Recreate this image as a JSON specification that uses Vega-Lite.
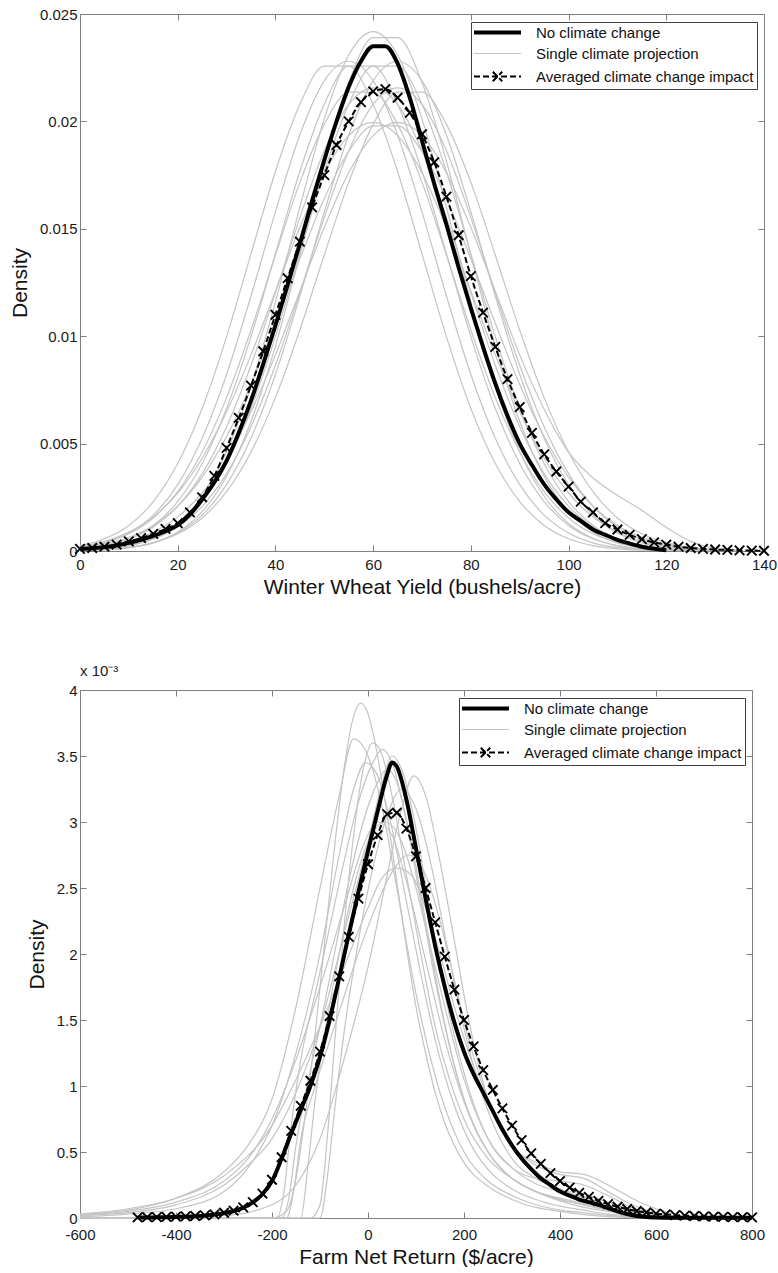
{
"$schema": "https://vega.github.io/schema/vega-lite/v6.json",
"padding": {"left": 9, "top": 7, "right": 0, "bottom": 0},
"spacing": 67,
"resolve": {"scale": {"color": "independent"}, "legend": {"color": "independent"}},
"config": {
  "font": "Liberation Sans",
  "view": {"stroke": null},
  "axis": {"grid": false, "domainColor": "#808080", "tickColor": "#808080", "tickSize": -6, "labelFontSize": 15, "labelColor": "#1a1a1a", "titleFontSize": 21, "titleFontWeight": "normal", "titleColor": "#111111", "labelFlush": false, "labelOverlap": false},
  "legend": {"labelFontSize": 15, "labelColor": "#111111", "labelLimit": 400, "strokeColor": "#404040", "fillColor": "#ffffff", "padding": 3, "rowPadding": 5, "symbolOffset": 16, "labelOffset": 31, "offset": 7.5}
},
"datasets": {
"wheat": [
{"s":"g","c":1,"x":0,"y":0.00002},{"s":"g","c":1,"x":5,"y":0.00005},{"s":"g","c":1,"x":10,"y":0.00015},{"s":"g","c":1,"x":15,"y":0.00038},{"s":"g","c":1,"x":20,"y":0.00088},{"s":"g","c":1,"x":25,"y":0.00183},{"s":"g","c":1,"x":30,"y":0.00348},{"s":"g","c":1,"x":35,"y":0.00603},{"s":"g","c":1,"x":40,"y":0.00954},{"s":"g","c":1,"x":45,"y":0.01378},{"s":"g","c":1,"x":50,"y":0.01815},{"s":"g","c":1,"x":55,"y":0.02181},{"s":"g","c":1,"x":60,"y":0.0239},{"s":"g","c":1,"x":65,"y":0.0239},{"s":"g","c":1,"x":70,"y":0.02181},{"s":"g","c":1,"x":75,"y":0.01815},{"s":"g","c":1,"x":80,"y":0.01378},{"s":"g","c":1,"x":85,"y":0.00954},{"s":"g","c":1,"x":90,"y":0.00603},{"s":"g","c":1,"x":95,"y":0.00348},{"s":"g","c":1,"x":100,"y":0.00183},{"s":"g","c":1,"x":105,"y":0.00088},{"s":"g","c":1,"x":110,"y":0.00038},{"s":"g","c":1,"x":115,"y":0.00015},{"s":"g","c":1,"x":120,"y":0.00005},{"s":"g","c":1,"x":125,"y":0.00002},
{"s":"g","c":2,"x":0,"y":0.00025},{"s":"g","c":2,"x":5,"y":0.00057},{"s":"g","c":2,"x":10,"y":0.00119},{"s":"g","c":2,"x":15,"y":0.0023},{"s":"g","c":2,"x":20,"y":0.00407},{"s":"g","c":2,"x":25,"y":0.00663},{"s":"g","c":2,"x":30,"y":0.00998},{"s":"g","c":2,"x":35,"y":0.01383},{"s":"g","c":2,"x":40,"y":0.01767},{"s":"g","c":2,"x":45,"y":0.0208},{"s":"g","c":2,"x":50,"y":0.02257},{"s":"g","c":2,"x":55,"y":0.02257},{"s":"g","c":2,"x":60,"y":0.0208},{"s":"g","c":2,"x":65,"y":0.01767},{"s":"g","c":2,"x":70,"y":0.01383},{"s":"g","c":2,"x":75,"y":0.00998},{"s":"g","c":2,"x":80,"y":0.00663},{"s":"g","c":2,"x":85,"y":0.00407},{"s":"g","c":2,"x":90,"y":0.0023},{"s":"g","c":2,"x":95,"y":0.00119},{"s":"g","c":2,"x":100,"y":0.00057},{"s":"g","c":2,"x":105,"y":0.00025},{"s":"g","c":2,"x":110,"y":0.0001},{"s":"g","c":2,"x":115,"y":0.00004},{"s":"g","c":2,"x":120,"y":0.00002},
{"s":"g","c":3,"x":0,"y":0.00022},{"s":"g","c":3,"x":5,"y":0.00045},{"s":"g","c":3,"x":10,"y":0.00088},{"s":"g","c":3,"x":15,"y":0.00159},{"s":"g","c":3,"x":20,"y":0.0027},{"s":"g","c":3,"x":25,"y":0.00432},{"s":"g","c":3,"x":30,"y":0.00648},{"s":"g","c":3,"x":35,"y":0.00913},{"s":"g","c":3,"x":40,"y":0.0121},{"s":"g","c":3,"x":45,"y":0.01506},{"s":"g","c":3,"x":50,"y":0.01761},{"s":"g","c":3,"x":55,"y":0.01934},{"s":"g","c":3,"x":60,"y":0.01995},{"s":"g","c":3,"x":65,"y":0.01934},{"s":"g","c":3,"x":70,"y":0.01761},{"s":"g","c":3,"x":75,"y":0.01506},{"s":"g","c":3,"x":80,"y":0.0121},{"s":"g","c":3,"x":85,"y":0.00913},{"s":"g","c":3,"x":90,"y":0.00648},{"s":"g","c":3,"x":95,"y":0.00432},{"s":"g","c":3,"x":100,"y":0.0027},{"s":"g","c":3,"x":105,"y":0.00159},{"s":"g","c":3,"x":110,"y":0.00088},{"s":"g","c":3,"x":115,"y":0.00045},{"s":"g","c":3,"x":120,"y":0.00022},{"s":"g","c":3,"x":125,"y":0.0001},{"s":"g","c":3,"x":130,"y":0.00004},{"s":"g","c":3,"x":135,"y":0.00002},
{"s":"g","c":4,"x":0,"y":0.0001},{"s":"g","c":4,"x":5,"y":0.00022},{"s":"g","c":4,"x":10,"y":0.00045},{"s":"g","c":4,"x":15,"y":0.00088},{"s":"g","c":4,"x":20,"y":0.00159},{"s":"g","c":4,"x":25,"y":0.0027},{"s":"g","c":4,"x":30,"y":0.00432},{"s":"g","c":4,"x":35,"y":0.00648},{"s":"g","c":4,"x":40,"y":0.00913},{"s":"g","c":4,"x":45,"y":0.0121},{"s":"g","c":4,"x":50,"y":0.01506},{"s":"g","c":4,"x":55,"y":0.01761},{"s":"g","c":4,"x":60,"y":0.01934},{"s":"g","c":4,"x":65,"y":0.01995},{"s":"g","c":4,"x":70,"y":0.01934},{"s":"g","c":4,"x":75,"y":0.01761},{"s":"g","c":4,"x":80,"y":0.01506},{"s":"g","c":4,"x":85,"y":0.0121},{"s":"g","c":4,"x":90,"y":0.00913},{"s":"g","c":4,"x":95,"y":0.0066},{"s":"g","c":4,"x":100,"y":0.0046},{"s":"g","c":4,"x":105,"y":0.0034},{"s":"g","c":4,"x":110,"y":0.0026},{"s":"g","c":4,"x":115,"y":0.0019},{"s":"g","c":4,"x":120,"y":0.0011},{"s":"g","c":4,"x":125,"y":0.00045},{"s":"g","c":4,"x":130,"y":0.00012},{"s":"g","c":4,"x":135,"y":0.00003},
{"s":"g","c":5,"x":0,"y":0.00011},{"s":"g","c":5,"x":5,"y":0.00026},{"s":"g","c":5,"x":10,"y":0.00056},{"s":"g","c":5,"x":15,"y":0.00112},{"s":"g","c":5,"x":20,"y":0.00208},{"s":"g","c":5,"x":25,"y":0.0036},{"s":"g","c":5,"x":30,"y":0.00579},{"s":"g","c":5,"x":35,"y":0.00865},{"s":"g","c":5,"x":40,"y":0.01202},{"s":"g","c":5,"x":45,"y":0.01552},{"s":"g","c":5,"x":50,"y":0.01863},{"s":"g","c":5,"x":55,"y":0.02079},{"s":"g","c":5,"x":60,"y":0.02156},{"s":"g","c":5,"x":65,"y":0.02079},{"s":"g","c":5,"x":70,"y":0.01863},{"s":"g","c":5,"x":75,"y":0.01552},{"s":"g","c":5,"x":80,"y":0.01202},{"s":"g","c":5,"x":85,"y":0.00865},{"s":"g","c":5,"x":90,"y":0.00579},{"s":"g","c":5,"x":95,"y":0.0036},{"s":"g","c":5,"x":100,"y":0.00208},{"s":"g","c":5,"x":105,"y":0.00112},{"s":"g","c":5,"x":110,"y":0.00056},{"s":"g","c":5,"x":115,"y":0.00026},{"s":"g","c":5,"x":120,"y":0.00011},{"s":"g","c":5,"x":125,"y":0.00005},{"s":"g","c":5,"x":130,"y":0.00002},
{"s":"g","c":6,"x":0,"y":0.00005},{"s":"g","c":6,"x":5,"y":0.00011},{"s":"g","c":6,"x":10,"y":0.00026},{"s":"g","c":6,"x":15,"y":0.00056},{"s":"g","c":6,"x":20,"y":0.00112},{"s":"g","c":6,"x":25,"y":0.00208},{"s":"g","c":6,"x":30,"y":0.0036},{"s":"g","c":6,"x":35,"y":0.00579},{"s":"g","c":6,"x":40,"y":0.00865},{"s":"g","c":6,"x":45,"y":0.01202},{"s":"g","c":6,"x":50,"y":0.01552},{"s":"g","c":6,"x":55,"y":0.01863},{"s":"g","c":6,"x":60,"y":0.02079},{"s":"g","c":6,"x":65,"y":0.02156},{"s":"g","c":6,"x":70,"y":0.02079},{"s":"g","c":6,"x":75,"y":0.01863},{"s":"g","c":6,"x":80,"y":0.01552},{"s":"g","c":6,"x":85,"y":0.01202},{"s":"g","c":6,"x":90,"y":0.00865},{"s":"g","c":6,"x":95,"y":0.00579},{"s":"g","c":6,"x":100,"y":0.0036},{"s":"g","c":6,"x":105,"y":0.00208},{"s":"g","c":6,"x":110,"y":0.00112},{"s":"g","c":6,"x":115,"y":0.00056},{"s":"g","c":6,"x":120,"y":0.00026},{"s":"g","c":6,"x":125,"y":0.00011},{"s":"g","c":6,"x":130,"y":0.00005},{"s":"g","c":6,"x":135,"y":0.00002},
{"s":"g","c":7,"x":0,"y":0.0001},{"s":"g","c":7,"x":5,"y":0.00025},{"s":"g","c":7,"x":10,"y":0.00057},{"s":"g","c":7,"x":15,"y":0.00119},{"s":"g","c":7,"x":20,"y":0.0023},{"s":"g","c":7,"x":25,"y":0.00407},{"s":"g","c":7,"x":30,"y":0.00663},{"s":"g","c":7,"x":35,"y":0.00998},{"s":"g","c":7,"x":40,"y":0.01383},{"s":"g","c":7,"x":45,"y":0.01767},{"s":"g","c":7,"x":50,"y":0.0208},{"s":"g","c":7,"x":55,"y":0.02257},{"s":"g","c":7,"x":60,"y":0.02257},{"s":"g","c":7,"x":65,"y":0.0208},{"s":"g","c":7,"x":70,"y":0.01767},{"s":"g","c":7,"x":75,"y":0.01383},{"s":"g","c":7,"x":80,"y":0.00998},{"s":"g","c":7,"x":85,"y":0.00663},{"s":"g","c":7,"x":90,"y":0.00407},{"s":"g","c":7,"x":95,"y":0.0023},{"s":"g","c":7,"x":100,"y":0.00119},{"s":"g","c":7,"x":105,"y":0.00057},{"s":"g","c":7,"x":110,"y":0.00025},{"s":"g","c":7,"x":115,"y":0.0001},{"s":"g","c":7,"x":120,"y":0.00004},{"s":"g","c":7,"x":125,"y":0.00002},
{"s":"g","c":8,"x":0,"y":0.00004},{"s":"g","c":8,"x":5,"y":0.0001},{"s":"g","c":8,"x":10,"y":0.00025},{"s":"g","c":8,"x":15,"y":0.00057},{"s":"g","c":8,"x":20,"y":0.00119},{"s":"g","c":8,"x":25,"y":0.0023},{"s":"g","c":8,"x":30,"y":0.00407},{"s":"g","c":8,"x":35,"y":0.00663},{"s":"g","c":8,"x":40,"y":0.00998},{"s":"g","c":8,"x":45,"y":0.01383},{"s":"g","c":8,"x":50,"y":0.01767},{"s":"g","c":8,"x":55,"y":0.0208},{"s":"g","c":8,"x":60,"y":0.02257},{"s":"g","c":8,"x":65,"y":0.02257},{"s":"g","c":8,"x":70,"y":0.0208},{"s":"g","c":8,"x":75,"y":0.01767},{"s":"g","c":8,"x":80,"y":0.01383},{"s":"g","c":8,"x":85,"y":0.00998},{"s":"g","c":8,"x":90,"y":0.00663},{"s":"g","c":8,"x":95,"y":0.00407},{"s":"g","c":8,"x":100,"y":0.0023},{"s":"g","c":8,"x":105,"y":0.00119},{"s":"g","c":8,"x":110,"y":0.00057},{"s":"g","c":8,"x":115,"y":0.00025},{"s":"g","c":8,"x":120,"y":0.0001},{"s":"g","c":8,"x":125,"y":0.00004},{"s":"g","c":8,"x":130,"y":0.00002},
{"s":"g","c":9,"x":0,"y":0.00017},{"s":"g","c":9,"x":5,"y":0.00039},{"s":"g","c":9,"x":10,"y":0.0008},{"s":"g","c":9,"x":15,"y":0.00154},{"s":"g","c":9,"x":20,"y":0.00276},{"s":"g","c":9,"x":25,"y":0.00461},{"s":"g","c":9,"x":30,"y":0.00714},{"s":"g","c":9,"x":35,"y":0.01029},{"s":"g","c":9,"x":40,"y":0.01378},{"s":"g","c":9,"x":45,"y":0.01716},{"s":"g","c":9,"x":50,"y":0.01986},{"s":"g","c":9,"x":55,"y":0.02136},{"s":"g","c":9,"x":60,"y":0.02136},{"s":"g","c":9,"x":65,"y":0.01986},{"s":"g","c":9,"x":70,"y":0.01716},{"s":"g","c":9,"x":75,"y":0.01378},{"s":"g","c":9,"x":80,"y":0.01029},{"s":"g","c":9,"x":85,"y":0.00714},{"s":"g","c":9,"x":90,"y":0.00461},{"s":"g","c":9,"x":95,"y":0.00276},{"s":"g","c":9,"x":100,"y":0.00154},{"s":"g","c":9,"x":105,"y":0.0008},{"s":"g","c":9,"x":110,"y":0.00039},{"s":"g","c":9,"x":115,"y":0.00017},{"s":"g","c":9,"x":120,"y":0.00007},{"s":"g","c":9,"x":125,"y":0.00003},
{"s":"g","c":10,"x":0,"y":0.00016},{"s":"g","c":10,"x":5,"y":0.00038},{"s":"g","c":10,"x":10,"y":0.00084},{"s":"g","c":10,"x":15,"y":0.00167},{"s":"g","c":10,"x":20,"y":0.00309},{"s":"g","c":10,"x":25,"y":0.00525},{"s":"g","c":10,"x":30,"y":0.00822},{"s":"g","c":10,"x":35,"y":0.01187},{"s":"g","c":10,"x":40,"y":0.01579},{"s":"g","c":10,"x":45,"y":0.01937},{"s":"g","c":10,"x":50,"y":0.02189},{"s":"g","c":10,"x":55,"y":0.0228},{"s":"g","c":10,"x":60,"y":0.02189},{"s":"g","c":10,"x":65,"y":0.01937},{"s":"g","c":10,"x":70,"y":0.01579},{"s":"g","c":10,"x":75,"y":0.01187},{"s":"g","c":10,"x":80,"y":0.00822},{"s":"g","c":10,"x":85,"y":0.00525},{"s":"g","c":10,"x":90,"y":0.00309},{"s":"g","c":10,"x":95,"y":0.00167},{"s":"g","c":10,"x":100,"y":0.00084},{"s":"g","c":10,"x":105,"y":0.00038},{"s":"g","c":10,"x":110,"y":0.00016},{"s":"g","c":10,"x":115,"y":0.00006},{"s":"g","c":10,"x":120,"y":0.00002},
{"s":"g","c":11,"x":0,"y":0.00003},{"s":"g","c":11,"x":5,"y":0.00009},{"s":"g","c":11,"x":10,"y":0.00024},{"s":"g","c":11,"x":15,"y":0.00059},{"s":"g","c":11,"x":20,"y":0.00128},{"s":"g","c":11,"x":25,"y":0.00255},{"s":"g","c":11,"x":30,"y":0.00463},{"s":"g","c":11,"x":35,"y":0.00767},{"s":"g","c":11,"x":40,"y":0.0116},{"s":"g","c":11,"x":45,"y":0.016},{"s":"g","c":11,"x":50,"y":0.02012},{"s":"g","c":11,"x":55,"y":0.02309},{"s":"g","c":11,"x":60,"y":0.02418},{"s":"g","c":11,"x":65,"y":0.02309},{"s":"g","c":11,"x":70,"y":0.02012},{"s":"g","c":11,"x":75,"y":0.016},{"s":"g","c":11,"x":80,"y":0.0116},{"s":"g","c":11,"x":85,"y":0.00767},{"s":"g","c":11,"x":90,"y":0.00463},{"s":"g","c":11,"x":95,"y":0.00255},{"s":"g","c":11,"x":100,"y":0.00128},{"s":"g","c":11,"x":105,"y":0.00059},{"s":"g","c":11,"x":110,"y":0.00024},{"s":"g","c":11,"x":115,"y":0.00009},{"s":"g","c":11,"x":120,"y":0.00003},
{"s":"g","c":12,"x":0,"y":0.00002},{"s":"g","c":12,"x":5,"y":0.00006},{"s":"g","c":12,"x":10,"y":0.00016},{"s":"g","c":12,"x":15,"y":0.00038},{"s":"g","c":12,"x":20,"y":0.00084},{"s":"g","c":12,"x":25,"y":0.00167},{"s":"g","c":12,"x":30,"y":0.00309},{"s":"g","c":12,"x":35,"y":0.00525},{"s":"g","c":12,"x":40,"y":0.00822},{"s":"g","c":12,"x":45,"y":0.01187},{"s":"g","c":12,"x":50,"y":0.01579},{"s":"g","c":12,"x":55,"y":0.01937},{"s":"g","c":12,"x":60,"y":0.02189},{"s":"g","c":12,"x":65,"y":0.0228},{"s":"g","c":12,"x":70,"y":0.02189},{"s":"g","c":12,"x":75,"y":0.01937},{"s":"g","c":12,"x":80,"y":0.01579},{"s":"g","c":12,"x":85,"y":0.01187},{"s":"g","c":12,"x":90,"y":0.00822},{"s":"g","c":12,"x":95,"y":0.00525},{"s":"g","c":12,"x":100,"y":0.00309},{"s":"g","c":12,"x":105,"y":0.00167},{"s":"g","c":12,"x":110,"y":0.00084},{"s":"g","c":12,"x":115,"y":0.00038},{"s":"g","c":12,"x":120,"y":0.00016},{"s":"g","c":12,"x":125,"y":0.00006},{"s":"g","c":12,"x":130,"y":0.00002},
{"s":"g","c":13,"x":0,"y":0.00015},{"s":"g","c":13,"x":5,"y":0.00032},{"s":"g","c":13,"x":10,"y":0.00064},{"s":"g","c":13,"x":15,"y":0.00119},{"s":"g","c":13,"x":20,"y":0.00209},{"s":"g","c":13,"x":25,"y":0.00344},{"s":"g","c":13,"x":30,"y":0.00533},{"s":"g","c":13,"x":35,"y":0.00775},{"s":"g","c":13,"x":40,"y":0.0106},{"s":"g","c":13,"x":45,"y":0.0136},{"s":"g","c":13,"x":50,"y":0.01641},{"s":"g","c":13,"x":55,"y":0.0186},{"s":"g","c":13,"x":60,"y":0.01979},{"s":"g","c":13,"x":65,"y":0.01979},{"s":"g","c":13,"x":70,"y":0.0186},{"s":"g","c":13,"x":75,"y":0.01641},{"s":"g","c":13,"x":80,"y":0.0136},{"s":"g","c":13,"x":85,"y":0.0106},{"s":"g","c":13,"x":90,"y":0.00775},{"s":"g","c":13,"x":95,"y":0.00533},{"s":"g","c":13,"x":100,"y":0.00344},{"s":"g","c":13,"x":105,"y":0.00209},{"s":"g","c":13,"x":110,"y":0.00119},{"s":"g","c":13,"x":115,"y":0.00064},{"s":"g","c":13,"x":120,"y":0.00032},{"s":"g","c":13,"x":125,"y":0.00015},{"s":"g","c":13,"x":130,"y":0.00007},{"s":"g","c":13,"x":135,"y":0.00003},
{"s":"g","c":14,"x":0,"y":0.00003},{"s":"g","c":14,"x":5,"y":0.00007},{"s":"g","c":14,"x":10,"y":0.00017},{"s":"g","c":14,"x":15,"y":0.00039},{"s":"g","c":14,"x":20,"y":0.0008},{"s":"g","c":14,"x":25,"y":0.00154},{"s":"g","c":14,"x":30,"y":0.00276},{"s":"g","c":14,"x":35,"y":0.00461},{"s":"g","c":14,"x":40,"y":0.00714},{"s":"g","c":14,"x":45,"y":0.01029},{"s":"g","c":14,"x":50,"y":0.01378},{"s":"g","c":14,"x":55,"y":0.01716},{"s":"g","c":14,"x":60,"y":0.01986},{"s":"g","c":14,"x":65,"y":0.02136},{"s":"g","c":14,"x":70,"y":0.02136},{"s":"g","c":14,"x":75,"y":0.01986},{"s":"g","c":14,"x":80,"y":0.01716},{"s":"g","c":14,"x":85,"y":0.01378},{"s":"g","c":14,"x":90,"y":0.01029},{"s":"g","c":14,"x":95,"y":0.00714},{"s":"g","c":14,"x":100,"y":0.00461},{"s":"g","c":14,"x":105,"y":0.00276},{"s":"g","c":14,"x":110,"y":0.00154},{"s":"g","c":14,"x":115,"y":0.0008},{"s":"g","c":14,"x":120,"y":0.00039},{"s":"g","c":14,"x":125,"y":0.00017},{"s":"g","c":14,"x":130,"y":0.00007},{"s":"g","c":14,"x":135,"y":0.00003},
{"s":"n","c":0,"x":0,"y":0.0001},{"s":"n","c":0,"x":2.5,"y":0.00013},{"s":"n","c":0,"x":5,"y":0.00018},{"s":"n","c":0,"x":7.5,"y":0.00026},{"s":"n","c":0,"x":10,"y":0.00038},{"s":"n","c":0,"x":12.5,"y":0.00052},{"s":"n","c":0,"x":15,"y":0.0007},{"s":"n","c":0,"x":17.5,"y":0.00092},{"s":"n","c":0,"x":20,"y":0.0012},{"s":"n","c":0,"x":22.5,"y":0.0017},{"s":"n","c":0,"x":25,"y":0.0024},{"s":"n","c":0,"x":27.5,"y":0.0032},{"s":"n","c":0,"x":30,"y":0.0042},{"s":"n","c":0,"x":32.5,"y":0.0055},{"s":"n","c":0,"x":35,"y":0.007},{"s":"n","c":0,"x":37.5,"y":0.0087},{"s":"n","c":0,"x":40,"y":0.0105},{"s":"n","c":0,"x":42.5,"y":0.0124},{"s":"n","c":0,"x":45,"y":0.0143},{"s":"n","c":0,"x":47.5,"y":0.0163},{"s":"n","c":0,"x":50,"y":0.0182},{"s":"n","c":0,"x":52.5,"y":0.02},{"s":"n","c":0,"x":55,"y":0.0216},{"s":"n","c":0,"x":57.5,"y":0.0228},{"s":"n","c":0,"x":60,"y":0.0235},{"s":"n","c":0,"x":62.5,"y":0.0235},{"s":"n","c":0,"x":65,"y":0.0227},{"s":"n","c":0,"x":67.5,"y":0.0211},{"s":"n","c":0,"x":70,"y":0.0191},{"s":"n","c":0,"x":72.5,"y":0.0171},{"s":"n","c":0,"x":75,"y":0.0152},{"s":"n","c":0,"x":77.5,"y":0.0132},{"s":"n","c":0,"x":80,"y":0.0113},{"s":"n","c":0,"x":82.5,"y":0.0095},{"s":"n","c":0,"x":85,"y":0.0078},{"s":"n","c":0,"x":87.5,"y":0.0063},{"s":"n","c":0,"x":90,"y":0.005},{"s":"n","c":0,"x":92.5,"y":0.004},{"s":"n","c":0,"x":95,"y":0.0031},{"s":"n","c":0,"x":97.5,"y":0.0024},{"s":"n","c":0,"x":100,"y":0.0018},{"s":"n","c":0,"x":102.5,"y":0.0014},{"s":"n","c":0,"x":105,"y":0.001},{"s":"n","c":0,"x":107.5,"y":0.00075},{"s":"n","c":0,"x":110,"y":0.00052},{"s":"n","c":0,"x":112.5,"y":0.00035},{"s":"n","c":0,"x":115,"y":0.0002},{"s":"n","c":0,"x":117.5,"y":0.0001},{"s":"n","c":0,"x":120,"y":0.00003},
{"s":"a","c":99,"x":0,"y":0.0001},{"s":"a","c":99,"x":2.5,"y":0.00014},{"s":"a","c":99,"x":5,"y":0.0002},{"s":"a","c":99,"x":7.5,"y":0.0003},{"s":"a","c":99,"x":10,"y":0.00045},{"s":"a","c":99,"x":12.5,"y":0.0006},{"s":"a","c":99,"x":15,"y":0.0008},{"s":"a","c":99,"x":17.5,"y":0.00103},{"s":"a","c":99,"x":20,"y":0.0013},{"s":"a","c":99,"x":22.5,"y":0.0018},{"s":"a","c":99,"x":25,"y":0.0025},{"s":"a","c":99,"x":27.5,"y":0.0035},{"s":"a","c":99,"x":30,"y":0.0048},{"s":"a","c":99,"x":32.5,"y":0.0062},{"s":"a","c":99,"x":35,"y":0.0077},{"s":"a","c":99,"x":37.5,"y":0.0093},{"s":"a","c":99,"x":40,"y":0.011},{"s":"a","c":99,"x":42.5,"y":0.0127},{"s":"a","c":99,"x":45,"y":0.0144},{"s":"a","c":99,"x":47.5,"y":0.016},{"s":"a","c":99,"x":50,"y":0.0175},{"s":"a","c":99,"x":52.5,"y":0.0189},{"s":"a","c":99,"x":55,"y":0.02},{"s":"a","c":99,"x":57.5,"y":0.0209},{"s":"a","c":99,"x":60,"y":0.0214},{"s":"a","c":99,"x":62.5,"y":0.0215},{"s":"a","c":99,"x":65,"y":0.0211},{"s":"a","c":99,"x":67.5,"y":0.0204},{"s":"a","c":99,"x":70,"y":0.0194},{"s":"a","c":99,"x":72.5,"y":0.0181},{"s":"a","c":99,"x":75,"y":0.0165},{"s":"a","c":99,"x":77.5,"y":0.0147},{"s":"a","c":99,"x":80,"y":0.0128},{"s":"a","c":99,"x":82.5,"y":0.0111},{"s":"a","c":99,"x":85,"y":0.0095},{"s":"a","c":99,"x":87.5,"y":0.008},{"s":"a","c":99,"x":90,"y":0.0067},{"s":"a","c":99,"x":92.5,"y":0.0055},{"s":"a","c":99,"x":95,"y":0.0045},{"s":"a","c":99,"x":97.5,"y":0.0037},{"s":"a","c":99,"x":100,"y":0.003},{"s":"a","c":99,"x":102.5,"y":0.0023},{"s":"a","c":99,"x":105,"y":0.0018},{"s":"a","c":99,"x":107.5,"y":0.0013},{"s":"a","c":99,"x":110,"y":0.001},{"s":"a","c":99,"x":112.5,"y":0.00075},{"s":"a","c":99,"x":115,"y":0.00055},{"s":"a","c":99,"x":117.5,"y":0.0004},{"s":"a","c":99,"x":120,"y":0.0003},{"s":"a","c":99,"x":122.5,"y":0.0002},{"s":"a","c":99,"x":125,"y":0.00014},{"s":"a","c":99,"x":127.5,"y":0.0001},{"s":"a","c":99,"x":130,"y":0.00007},{"s":"a","c":99,"x":132.5,"y":0.00005},{"s":"a","c":99,"x":135,"y":0.00003},{"s":"a","c":99,"x":137.5,"y":0.00002},{"s":"a","c":99,"x":140,"y":0.00001}
],
"farm": [
{"s":"g","c":1,"x":-600,"y":0},{"s":"g","c":1,"x":-200,"y":0},{"s":"g","c":1,"x":-170,"y":0.05},{"s":"g","c":1,"x":-150,"y":0.3},{"s":"g","c":1,"x":-130,"y":0.8},{"s":"g","c":1,"x":-110,"y":1.4},{"s":"g","c":1,"x":-90,"y":2.1},{"s":"g","c":1,"x":-70,"y":2.8},{"s":"g","c":1,"x":-50,"y":3.4},{"s":"g","c":1,"x":-30,"y":3.8},{"s":"g","c":1,"x":-15,"y":3.9},{"s":"g","c":1,"x":0,"y":3.82},{"s":"g","c":1,"x":20,"y":3.5},{"s":"g","c":1,"x":40,"y":3.05},{"s":"g","c":1,"x":60,"y":2.55},{"s":"g","c":1,"x":80,"y":2.05},{"s":"g","c":1,"x":100,"y":1.6},{"s":"g","c":1,"x":120,"y":1.25},{"s":"g","c":1,"x":140,"y":0.95},{"s":"g","c":1,"x":160,"y":0.72},{"s":"g","c":1,"x":200,"y":0.42},{"s":"g","c":1,"x":250,"y":0.24},{"s":"g","c":1,"x":300,"y":0.14},{"s":"g","c":1,"x":350,"y":0.08},{"s":"g","c":1,"x":400,"y":0.05},{"s":"g","c":1,"x":500,"y":0.01},{"s":"g","c":1,"x":600,"y":0},{"s":"g","c":1,"x":800,"y":0},
{"s":"g","c":2,"x":-600,"y":0.03},{"s":"g","c":2,"x":-500,"y":0.06},{"s":"g","c":2,"x":-400,"y":0.15},{"s":"g","c":2,"x":-300,"y":0.35},{"s":"g","c":2,"x":-250,"y":0.55},{"s":"g","c":2,"x":-200,"y":0.9},{"s":"g","c":2,"x":-150,"y":1.6},{"s":"g","c":2,"x":-100,"y":2.5},{"s":"g","c":2,"x":-60,"y":3.2},{"s":"g","c":2,"x":-30,"y":3.63},{"s":"g","c":2,"x":0,"y":3.5},{"s":"g","c":2,"x":30,"y":3.1},{"s":"g","c":2,"x":60,"y":2.5},{"s":"g","c":2,"x":100,"y":1.7},{"s":"g","c":2,"x":150,"y":0.95},{"s":"g","c":2,"x":200,"y":0.5},{"s":"g","c":2,"x":250,"y":0.28},{"s":"g","c":2,"x":300,"y":0.17},{"s":"g","c":2,"x":350,"y":0.1},{"s":"g","c":2,"x":400,"y":0.06},{"s":"g","c":2,"x":450,"y":0.04},{"s":"g","c":2,"x":500,"y":0.02},{"s":"g","c":2,"x":600,"y":0.005},{"s":"g","c":2,"x":800,"y":0},
{"s":"g","c":3,"x":-600,"y":0},{"s":"g","c":3,"x":-120,"y":0},{"s":"g","c":3,"x":-100,"y":0.1},{"s":"g","c":3,"x":-85,"y":0.6},{"s":"g","c":3,"x":-70,"y":1.3},{"s":"g","c":3,"x":-50,"y":2.2},{"s":"g","c":3,"x":-30,"y":2.9},{"s":"g","c":3,"x":-10,"y":3.4},{"s":"g","c":3,"x":10,"y":3.6},{"s":"g","c":3,"x":30,"y":3.5},{"s":"g","c":3,"x":50,"y":3.2},{"s":"g","c":3,"x":80,"y":2.6},{"s":"g","c":3,"x":110,"y":2.0},{"s":"g","c":3,"x":140,"y":1.45},{"s":"g","c":3,"x":170,"y":1.05},{"s":"g","c":3,"x":200,"y":0.75},{"s":"g","c":3,"x":250,"y":0.45},{"s":"g","c":3,"x":300,"y":0.3},{"s":"g","c":3,"x":350,"y":0.2},{"s":"g","c":3,"x":400,"y":0.14},{"s":"g","c":3,"x":450,"y":0.1},{"s":"g","c":3,"x":500,"y":0.06},{"s":"g","c":3,"x":550,"y":0.03},{"s":"g","c":3,"x":600,"y":0.01},{"s":"g","c":3,"x":800,"y":0},
{"s":"g","c":4,"x":-600,"y":0},{"s":"g","c":4,"x":-190,"y":0},{"s":"g","c":4,"x":-175,"y":0.2},{"s":"g","c":4,"x":-160,"y":0.7},{"s":"g","c":4,"x":-140,"y":1.2},{"s":"g","c":4,"x":-110,"y":1.7},{"s":"g","c":4,"x":-80,"y":2.2},{"s":"g","c":4,"x":-50,"y":2.7},{"s":"g","c":4,"x":-20,"y":3.15},{"s":"g","c":4,"x":10,"y":3.45},{"s":"g","c":4,"x":30,"y":3.55},{"s":"g","c":4,"x":50,"y":3.45},{"s":"g","c":4,"x":80,"y":3.0},{"s":"g","c":4,"x":110,"y":2.4},{"s":"g","c":4,"x":140,"y":1.8},{"s":"g","c":4,"x":170,"y":1.3},{"s":"g","c":4,"x":200,"y":0.9},{"s":"g","c":4,"x":250,"y":0.5},{"s":"g","c":4,"x":300,"y":0.3},{"s":"g","c":4,"x":350,"y":0.2},{"s":"g","c":4,"x":400,"y":0.14},{"s":"g","c":4,"x":450,"y":0.1},{"s":"g","c":4,"x":500,"y":0.06},{"s":"g","c":4,"x":550,"y":0.03},{"s":"g","c":4,"x":600,"y":0.01},{"s":"g","c":4,"x":800,"y":0},
{"s":"g","c":5,"x":-600,"y":0.02},{"s":"g","c":5,"x":-500,"y":0.04},{"s":"g","c":5,"x":-400,"y":0.1},{"s":"g","c":5,"x":-300,"y":0.25},{"s":"g","c":5,"x":-250,"y":0.4},{"s":"g","c":5,"x":-200,"y":0.6},{"s":"g","c":5,"x":-150,"y":0.95},{"s":"g","c":5,"x":-100,"y":1.45},{"s":"g","c":5,"x":-50,"y":2.15},{"s":"g","c":5,"x":0,"y":2.85},{"s":"g","c":5,"x":30,"y":3.3},{"s":"g","c":5,"x":50,"y":3.5},{"s":"g","c":5,"x":70,"y":3.4},{"s":"g","c":5,"x":100,"y":2.95},{"s":"g","c":5,"x":130,"y":2.3},{"s":"g","c":5,"x":160,"y":1.7},{"s":"g","c":5,"x":200,"y":1.1},{"s":"g","c":5,"x":250,"y":0.6},{"s":"g","c":5,"x":300,"y":0.38},{"s":"g","c":5,"x":350,"y":0.3},{"s":"g","c":5,"x":400,"y":0.28},{"s":"g","c":5,"x":450,"y":0.25},{"s":"g","c":5,"x":500,"y":0.17},{"s":"g","c":5,"x":550,"y":0.08},{"s":"g","c":5,"x":600,"y":0.03},{"s":"g","c":5,"x":650,"y":0.01},{"s":"g","c":5,"x":800,"y":0},
{"s":"g","c":6,"x":-600,"y":0},{"s":"g","c":6,"x":-300,"y":0.02},{"s":"g","c":6,"x":-200,"y":0.1},{"s":"g","c":6,"x":-150,"y":0.25},{"s":"g","c":6,"x":-100,"y":0.6},{"s":"g","c":6,"x":-50,"y":1.2},{"s":"g","c":6,"x":0,"y":1.9},{"s":"g","c":6,"x":40,"y":2.6},{"s":"g","c":6,"x":70,"y":3.1},{"s":"g","c":6,"x":95,"y":3.35},{"s":"g","c":6,"x":120,"y":3.2},{"s":"g","c":6,"x":150,"y":2.7},{"s":"g","c":6,"x":180,"y":2.1},{"s":"g","c":6,"x":210,"y":1.5},{"s":"g","c":6,"x":250,"y":0.9},{"s":"g","c":6,"x":300,"y":0.55},{"s":"g","c":6,"x":350,"y":0.42},{"s":"g","c":6,"x":400,"y":0.35},{"s":"g","c":6,"x":450,"y":0.33},{"s":"g","c":6,"x":500,"y":0.25},{"s":"g","c":6,"x":550,"y":0.15},{"s":"g","c":6,"x":600,"y":0.07},{"s":"g","c":6,"x":650,"y":0.02},{"s":"g","c":6,"x":700,"y":0.005},{"s":"g","c":6,"x":800,"y":0},
{"s":"g","c":7,"x":-600,"y":0.03},{"s":"g","c":7,"x":-500,"y":0.07},{"s":"g","c":7,"x":-400,"y":0.15},{"s":"g","c":7,"x":-300,"y":0.32},{"s":"g","c":7,"x":-200,"y":0.7},{"s":"g","c":7,"x":-150,"y":1.05},{"s":"g","c":7,"x":-100,"y":1.45},{"s":"g","c":7,"x":-50,"y":1.9},{"s":"g","c":7,"x":0,"y":2.35},{"s":"g","c":7,"x":30,"y":2.58},{"s":"g","c":7,"x":60,"y":2.65},{"s":"g","c":7,"x":90,"y":2.6},{"s":"g","c":7,"x":120,"y":2.35},{"s":"g","c":7,"x":150,"y":2.0},{"s":"g","c":7,"x":180,"y":1.6},{"s":"g","c":7,"x":220,"y":1.15},{"s":"g","c":7,"x":260,"y":0.8},{"s":"g","c":7,"x":300,"y":0.55},{"s":"g","c":7,"x":350,"y":0.4},{"s":"g","c":7,"x":400,"y":0.33},{"s":"g","c":7,"x":450,"y":0.3},{"s":"g","c":7,"x":500,"y":0.2},{"s":"g","c":7,"x":550,"y":0.1},{"s":"g","c":7,"x":600,"y":0.04},{"s":"g","c":7,"x":650,"y":0.01},{"s":"g","c":7,"x":800,"y":0},
{"s":"g","c":8,"x":-600,"y":0},{"s":"g","c":8,"x":-170,"y":0},{"s":"g","c":8,"x":-155,"y":0.2},{"s":"g","c":8,"x":-140,"y":0.6},{"s":"g","c":8,"x":-110,"y":1.0},{"s":"g","c":8,"x":-70,"y":1.45},{"s":"g","c":8,"x":-30,"y":1.9},{"s":"g","c":8,"x":10,"y":2.3},{"s":"g","c":8,"x":50,"y":2.62},{"s":"g","c":8,"x":85,"y":2.75},{"s":"g","c":8,"x":120,"y":2.6},{"s":"g","c":8,"x":150,"y":2.25},{"s":"g","c":8,"x":180,"y":1.8},{"s":"g","c":8,"x":210,"y":1.35},{"s":"g","c":8,"x":250,"y":0.9},{"s":"g","c":8,"x":300,"y":0.55},{"s":"g","c":8,"x":350,"y":0.35},{"s":"g","c":8,"x":400,"y":0.22},{"s":"g","c":8,"x":450,"y":0.18},{"s":"g","c":8,"x":500,"y":0.12},{"s":"g","c":8,"x":550,"y":0.06},{"s":"g","c":8,"x":600,"y":0.02},{"s":"g","c":8,"x":800,"y":0},
{"s":"g","c":9,"x":-600,"y":0.01},{"s":"g","c":9,"x":-500,"y":0.03},{"s":"g","c":9,"x":-400,"y":0.07},{"s":"g","c":9,"x":-300,"y":0.2},{"s":"g","c":9,"x":-250,"y":0.38},{"s":"g","c":9,"x":-200,"y":0.7},{"s":"g","c":9,"x":-150,"y":1.25},{"s":"g","c":9,"x":-100,"y":2.0},{"s":"g","c":9,"x":-60,"y":2.75},{"s":"g","c":9,"x":-30,"y":3.25},{"s":"g","c":9,"x":-5,"y":3.45},{"s":"g","c":9,"x":20,"y":3.35},{"s":"g","c":9,"x":50,"y":2.95},{"s":"g","c":9,"x":80,"y":2.4},{"s":"g","c":9,"x":110,"y":1.85},{"s":"g","c":9,"x":140,"y":1.35},{"s":"g","c":9,"x":180,"y":0.85},{"s":"g","c":9,"x":220,"y":0.52},{"s":"g","c":9,"x":260,"y":0.33},{"s":"g","c":9,"x":300,"y":0.22},{"s":"g","c":9,"x":350,"y":0.14},{"s":"g","c":9,"x":400,"y":0.09},{"s":"g","c":9,"x":450,"y":0.06},{"s":"g","c":9,"x":500,"y":0.03},{"s":"g","c":9,"x":600,"y":0.01},{"s":"g","c":9,"x":800,"y":0},
{"s":"g","c":10,"x":-600,"y":0},{"s":"g","c":10,"x":-100,"y":0},{"s":"g","c":10,"x":-85,"y":0.3},{"s":"g","c":10,"x":-70,"y":0.8},{"s":"g","c":10,"x":-50,"y":1.4},{"s":"g","c":10,"x":-20,"y":2.1},{"s":"g","c":10,"x":10,"y":2.65},{"s":"g","c":10,"x":40,"y":3.05},{"s":"g","c":10,"x":70,"y":3.25},{"s":"g","c":10,"x":100,"y":3.1},{"s":"g","c":10,"x":130,"y":2.7},{"s":"g","c":10,"x":160,"y":2.15},{"s":"g","c":10,"x":190,"y":1.6},{"s":"g","c":10,"x":220,"y":1.15},{"s":"g","c":10,"x":260,"y":0.72},{"s":"g","c":10,"x":300,"y":0.45},{"s":"g","c":10,"x":350,"y":0.3},{"s":"g","c":10,"x":400,"y":0.22},{"s":"g","c":10,"x":450,"y":0.15},{"s":"g","c":10,"x":500,"y":0.08},{"s":"g","c":10,"x":550,"y":0.04},{"s":"g","c":10,"x":600,"y":0.01},{"s":"g","c":10,"x":800,"y":0},
{"s":"g","c":11,"x":-600,"y":0.02},{"s":"g","c":11,"x":-500,"y":0.05},{"s":"g","c":11,"x":-400,"y":0.12},{"s":"g","c":11,"x":-300,"y":0.28},{"s":"g","c":11,"x":-250,"y":0.45},{"s":"g","c":11,"x":-200,"y":0.75},{"s":"g","c":11,"x":-150,"y":1.2},{"s":"g","c":11,"x":-100,"y":1.75},{"s":"g","c":11,"x":-50,"y":2.35},{"s":"g","c":11,"x":-10,"y":2.82},{"s":"g","c":11,"x":20,"y":3.0},{"s":"g","c":11,"x":50,"y":2.9},{"s":"g","c":11,"x":80,"y":2.55},{"s":"g","c":11,"x":120,"y":1.95},{"s":"g","c":11,"x":160,"y":1.35},{"s":"g","c":11,"x":200,"y":0.88},{"s":"g","c":11,"x":250,"y":0.5},{"s":"g","c":11,"x":300,"y":0.3},{"s":"g","c":11,"x":350,"y":0.2},{"s":"g","c":11,"x":400,"y":0.15},{"s":"g","c":11,"x":450,"y":0.11},{"s":"g","c":11,"x":500,"y":0.07},{"s":"g","c":11,"x":550,"y":0.04},{"s":"g","c":11,"x":600,"y":0.02},{"s":"g","c":11,"x":700,"y":0.005},{"s":"g","c":11,"x":800,"y":0},
{"s":"g","c":12,"x":-600,"y":0},{"s":"g","c":12,"x":-180,"y":0},{"s":"g","c":12,"x":-165,"y":0.15},{"s":"g","c":12,"x":-150,"y":0.55},{"s":"g","c":12,"x":-130,"y":0.95},{"s":"g","c":12,"x":-100,"y":1.45},{"s":"g","c":12,"x":-70,"y":2.0},{"s":"g","c":12,"x":-40,"y":2.55},{"s":"g","c":12,"x":-10,"y":3.0},{"s":"g","c":12,"x":20,"y":3.3},{"s":"g","c":12,"x":40,"y":3.4},{"s":"g","c":12,"x":60,"y":3.3},{"s":"g","c":12,"x":90,"y":2.85},{"s":"g","c":12,"x":120,"y":2.25},{"s":"g","c":12,"x":150,"y":1.65},{"s":"g","c":12,"x":180,"y":1.15},{"s":"g","c":12,"x":220,"y":0.7},{"s":"g","c":12,"x":260,"y":0.45},{"s":"g","c":12,"x":300,"y":0.3},{"s":"g","c":12,"x":350,"y":0.2},{"s":"g","c":12,"x":400,"y":0.13},{"s":"g","c":12,"x":450,"y":0.08},{"s":"g","c":12,"x":500,"y":0.05},{"s":"g","c":12,"x":550,"y":0.02},{"s":"g","c":12,"x":600,"y":0.01},{"s":"g","c":12,"x":800,"y":0},
{"s":"g","c":13,"x":-600,"y":0},{"s":"g","c":13,"x":-140,"y":0},{"s":"g","c":13,"x":-125,"y":0.4},{"s":"g","c":13,"x":-110,"y":0.9},{"s":"g","c":13,"x":-90,"y":1.4},{"s":"g","c":13,"x":-60,"y":2.0},{"s":"g","c":13,"x":-30,"y":2.5},{"s":"g","c":13,"x":0,"y":2.85},{"s":"g","c":13,"x":35,"y":3.0},{"s":"g","c":13,"x":70,"y":2.85},{"s":"g","c":13,"x":100,"y":2.5},{"s":"g","c":13,"x":130,"y":2.05},{"s":"g","c":13,"x":160,"y":1.6},{"s":"g","c":13,"x":200,"y":1.05},{"s":"g","c":13,"x":250,"y":0.6},{"s":"g","c":13,"x":300,"y":0.38},{"s":"g","c":13,"x":350,"y":0.26},{"s":"g","c":13,"x":400,"y":0.2},{"s":"g","c":13,"x":450,"y":0.16},{"s":"g","c":13,"x":500,"y":0.1},{"s":"g","c":13,"x":550,"y":0.05},{"s":"g","c":13,"x":600,"y":0.02},{"s":"g","c":13,"x":800,"y":0},
{"s":"n","c":0,"x":-480,"y":0.003},{"s":"n","c":0,"x":-460,"y":0.004},{"s":"n","c":0,"x":-440,"y":0.005},{"s":"n","c":0,"x":-420,"y":0.006},{"s":"n","c":0,"x":-400,"y":0.008},{"s":"n","c":0,"x":-380,"y":0.01},{"s":"n","c":0,"x":-360,"y":0.013},{"s":"n","c":0,"x":-340,"y":0.018},{"s":"n","c":0,"x":-320,"y":0.026},{"s":"n","c":0,"x":-300,"y":0.037},{"s":"n","c":0,"x":-280,"y":0.053},{"s":"n","c":0,"x":-260,"y":0.078},{"s":"n","c":0,"x":-240,"y":0.118},{"s":"n","c":0,"x":-220,"y":0.18},{"s":"n","c":0,"x":-200,"y":0.28},{"s":"n","c":0,"x":-180,"y":0.45},{"s":"n","c":0,"x":-160,"y":0.64},{"s":"n","c":0,"x":-140,"y":0.82},{"s":"n","c":0,"x":-120,"y":1.0},{"s":"n","c":0,"x":-100,"y":1.22},{"s":"n","c":0,"x":-80,"y":1.5},{"s":"n","c":0,"x":-60,"y":1.82},{"s":"n","c":0,"x":-40,"y":2.15},{"s":"n","c":0,"x":-20,"y":2.47},{"s":"n","c":0,"x":0,"y":2.78},{"s":"n","c":0,"x":20,"y":3.08},{"s":"n","c":0,"x":40,"y":3.36},{"s":"n","c":0,"x":50,"y":3.45},{"s":"n","c":0,"x":60,"y":3.42},{"s":"n","c":0,"x":80,"y":3.17},{"s":"n","c":0,"x":100,"y":2.8},{"s":"n","c":0,"x":120,"y":2.42},{"s":"n","c":0,"x":140,"y":2.06},{"s":"n","c":0,"x":160,"y":1.75},{"s":"n","c":0,"x":180,"y":1.48},{"s":"n","c":0,"x":200,"y":1.26},{"s":"n","c":0,"x":220,"y":1.09},{"s":"n","c":0,"x":240,"y":0.95},{"s":"n","c":0,"x":260,"y":0.81},{"s":"n","c":0,"x":280,"y":0.67},{"s":"n","c":0,"x":300,"y":0.55},{"s":"n","c":0,"x":320,"y":0.45},{"s":"n","c":0,"x":340,"y":0.37},{"s":"n","c":0,"x":360,"y":0.3},{"s":"n","c":0,"x":380,"y":0.25},{"s":"n","c":0,"x":400,"y":0.2},{"s":"n","c":0,"x":420,"y":0.17},{"s":"n","c":0,"x":440,"y":0.14},{"s":"n","c":0,"x":460,"y":0.12},{"s":"n","c":0,"x":480,"y":0.1},{"s":"n","c":0,"x":500,"y":0.075},{"s":"n","c":0,"x":520,"y":0.05},{"s":"n","c":0,"x":540,"y":0.03},{"s":"n","c":0,"x":560,"y":0.015},{"s":"n","c":0,"x":580,"y":0.007},{"s":"n","c":0,"x":600,"y":0.004},{"s":"n","c":0,"x":620,"y":0.002},{"s":"n","c":0,"x":640,"y":0.001},{"s":"n","c":0,"x":700,"y":0.001},{"s":"n","c":0,"x":800,"y":0.001},
{"s":"a","c":99,"x":-480,"y":0.005},{"s":"a","c":99,"x":-460,"y":0.006},{"s":"a","c":99,"x":-440,"y":0.007},{"s":"a","c":99,"x":-420,"y":0.008},{"s":"a","c":99,"x":-400,"y":0.01},{"s":"a","c":99,"x":-380,"y":0.012},{"s":"a","c":99,"x":-360,"y":0.015},{"s":"a","c":99,"x":-340,"y":0.02},{"s":"a","c":99,"x":-320,"y":0.028},{"s":"a","c":99,"x":-300,"y":0.04},{"s":"a","c":99,"x":-280,"y":0.056},{"s":"a","c":99,"x":-260,"y":0.08},{"s":"a","c":99,"x":-240,"y":0.12},{"s":"a","c":99,"x":-220,"y":0.185},{"s":"a","c":99,"x":-200,"y":0.29},{"s":"a","c":99,"x":-180,"y":0.46},{"s":"a","c":99,"x":-160,"y":0.66},{"s":"a","c":99,"x":-140,"y":0.85},{"s":"a","c":99,"x":-120,"y":1.04},{"s":"a","c":99,"x":-100,"y":1.26},{"s":"a","c":99,"x":-80,"y":1.53},{"s":"a","c":99,"x":-60,"y":1.83},{"s":"a","c":99,"x":-40,"y":2.13},{"s":"a","c":99,"x":-20,"y":2.42},{"s":"a","c":99,"x":0,"y":2.68},{"s":"a","c":99,"x":20,"y":2.9},{"s":"a","c":99,"x":40,"y":3.06},{"s":"a","c":99,"x":60,"y":3.07},{"s":"a","c":99,"x":80,"y":2.95},{"s":"a","c":99,"x":100,"y":2.74},{"s":"a","c":99,"x":120,"y":2.5},{"s":"a","c":99,"x":140,"y":2.24},{"s":"a","c":99,"x":160,"y":1.98},{"s":"a","c":99,"x":180,"y":1.73},{"s":"a","c":99,"x":200,"y":1.5},{"s":"a","c":99,"x":220,"y":1.3},{"s":"a","c":99,"x":240,"y":1.12},{"s":"a","c":99,"x":260,"y":0.97},{"s":"a","c":99,"x":280,"y":0.83},{"s":"a","c":99,"x":300,"y":0.7},{"s":"a","c":99,"x":320,"y":0.59},{"s":"a","c":99,"x":340,"y":0.49},{"s":"a","c":99,"x":360,"y":0.41},{"s":"a","c":99,"x":380,"y":0.34},{"s":"a","c":99,"x":400,"y":0.28},{"s":"a","c":99,"x":420,"y":0.23},{"s":"a","c":99,"x":440,"y":0.19},{"s":"a","c":99,"x":460,"y":0.16},{"s":"a","c":99,"x":480,"y":0.13},{"s":"a","c":99,"x":500,"y":0.105},{"s":"a","c":99,"x":520,"y":0.085},{"s":"a","c":99,"x":540,"y":0.068},{"s":"a","c":99,"x":560,"y":0.053},{"s":"a","c":99,"x":580,"y":0.042},{"s":"a","c":99,"x":600,"y":0.033},{"s":"a","c":99,"x":620,"y":0.027},{"s":"a","c":99,"x":640,"y":0.022},{"s":"a","c":99,"x":660,"y":0.018},{"s":"a","c":99,"x":680,"y":0.015},{"s":"a","c":99,"x":700,"y":0.012},{"s":"a","c":99,"x":720,"y":0.01},{"s":"a","c":99,"x":740,"y":0.008},{"s":"a","c":99,"x":760,"y":0.007},{"s":"a","c":99,"x":780,"y":0.006},{"s":"a","c":99,"x":800,"y":0.005}
]
},
"vconcat": [
{
  "width": 684, "height": 537,
  "data": {"name": "wheat"},
  "resolve": {"axis": {"x": "independent", "y": "independent"}},
  "layer": [
    {
      "transform": [{"filter": "datum.s == 'g'"}],
      "mark": {"type": "line", "interpolate": "monotone", "strokeWidth": 1.2},
      "encoding": {
        "x": {"field": "x", "type": "quantitative", "scale": {"domain": [0, 140], "nice": false, "zero": false}, "axis": {"orient": "bottom", "values": [0,20,40,60,80,100,120,140], "title": "Winter Wheat Yield (bushels/acre)", "labelPadding": 12, "titlePadding": 4}},
        "y": {"field": "y", "type": "quantitative", "scale": {"domain": [0, 0.025], "nice": false}, "axis": {"orient": "left", "values": [0,0.005,0.01,0.015,0.02,0.025], "format": "~g", "title": "Density", "labelPadding": 9, "titlePadding": 9}},
        "detail": {"field": "c", "type": "nominal"},
        "color": {"field": "s", "type": "nominal", "scale": {"domain": ["n","g","a"], "range": ["#000000","#c4c4c4","#000000"]},
          "legend": {"title": null, "orient": "top-right", "symbolSize": 2209, "labelExpr": "datum.label == 'n' ? 'No climate change' : datum.label == 'g' ? 'Single climate projection' : 'Averaged climate change impact'",
            "encode": {"symbols": {"update": {"shape": {"signal": "datum.value == 'a' ? 'M-1,0H1M-0.2,-0.2L0.2,0.2M-0.2,0.2L0.2,-0.2' : 'M-1,0H1'"}, "strokeWidth": {"signal": "datum.value == 'n' ? 4 : datum.value == 'g' ? 1.2 : 2"}, "strokeDash": {"signal": "datum.value == 'a' ? [6,3] : [1,0]"}, "fill": {"value": "transparent"}}}}}}
      }
    },
    {
      "transform": [{"filter": "datum.s == 'n'"}],
      "mark": {"type": "line", "interpolate": "monotone", "strokeWidth": 4, "color": "#000000"},
      "encoding": {
        "x": {"field": "x", "type": "quantitative", "axis": {"orient": "top", "values": [0,20,40,60,80,100,120,140], "labels": false, "title": null}},
        "y": {"field": "y", "type": "quantitative", "axis": {"orient": "right", "values": [0,0.005,0.01,0.015,0.02,0.025], "labels": false, "title": null}}
      }
    },
    {
      "transform": [{"filter": "datum.s == 'a'"}],
      "mark": {"type": "line", "interpolate": "monotone", "strokeWidth": 2, "strokeDash": [6,3], "color": "#000000"},
      "encoding": {
        "x": {"field": "x", "type": "quantitative", "axis": null},
        "y": {"field": "y", "type": "quantitative", "axis": null}
      }
    },
    {
      "transform": [{"filter": "datum.s == 'a'"}],
      "mark": {"type": "point", "shape": "M-1,-1L1,1M-1,1L1,-1", "filled": false, "color": "#000000", "strokeWidth": 1.9, "size": 90, "opacity": 1},
      "encoding": {
        "x": {"field": "x", "type": "quantitative", "axis": null},
        "y": {"field": "y", "type": "quantitative", "axis": null}
      }
    }
  ]
},
{
  "width": 672, "height": 528,
  "data": {"name": "farm"},
  "title": {"text": "x 10⁻³", "anchor": "start", "frame": "group", "fontSize": 15, "fontWeight": "normal", "offset": 4, "color": "#1a1a1a"},
  "resolve": {"axis": {"x": "independent", "y": "independent"}},
  "layer": [
    {
      "transform": [{"filter": "datum.s == 'g'"}],
      "mark": {"type": "line", "interpolate": "monotone", "strokeWidth": 1.2},
      "encoding": {
        "x": {"field": "x", "type": "quantitative", "scale": {"domain": [-600, 800], "nice": false, "zero": false}, "axis": {"orient": "bottom", "values": [-600,-400,-200,0,200,400,600,800], "labelExpr": "'' + datum.value", "title": "Farm Net Return ($/acre)", "labelPadding": 15, "titlePadding": 4}},
        "y": {"field": "y", "type": "quantitative", "scale": {"domain": [0, 4], "nice": false}, "axis": {"orient": "left", "values": [0,0.5,1,1.5,2,2.5,3,3.5,4], "format": "~g", "title": "Density", "labelPadding": 9, "titlePadding": 9}},
        "detail": {"field": "c", "type": "nominal"},
        "color": {"field": "s", "type": "nominal", "scale": {"domain": ["n","g","a"], "range": ["#000000","#c4c4c4","#000000"]},
          "legend": {"title": null, "orient": "top-right", "symbolSize": 2209, "labelExpr": "datum.label == 'n' ? 'No climate change' : datum.label == 'g' ? 'Single climate projection' : 'Averaged climate change impact'",
            "encode": {"symbols": {"update": {"shape": {"signal": "datum.value == 'a' ? 'M-1,0H1M-0.2,-0.2L0.2,0.2M-0.2,0.2L0.2,-0.2' : 'M-1,0H1'"}, "strokeWidth": {"signal": "datum.value == 'n' ? 4 : datum.value == 'g' ? 1.2 : 2"}, "strokeDash": {"signal": "datum.value == 'a' ? [6,3] : [1,0]"}, "fill": {"value": "transparent"}}}}}}
      }
    },
    {
      "transform": [{"filter": "datum.s == 'n'"}],
      "mark": {"type": "line", "interpolate": "monotone", "strokeWidth": 4, "color": "#000000"},
      "encoding": {
        "x": {"field": "x", "type": "quantitative", "axis": {"orient": "top", "values": [-600,-400,-200,0,200,400,600,800], "labels": false, "title": null}},
        "y": {"field": "y", "type": "quantitative", "axis": {"orient": "right", "values": [0,0.5,1,1.5,2,2.5,3,3.5,4], "labels": false, "title": null}}
      }
    },
    {
      "transform": [{"filter": "datum.s == 'a'"}],
      "mark": {"type": "line", "interpolate": "monotone", "strokeWidth": 2, "strokeDash": [6,3], "color": "#000000"},
      "encoding": {
        "x": {"field": "x", "type": "quantitative", "axis": null},
        "y": {"field": "y", "type": "quantitative", "axis": null}
      }
    },
    {
      "transform": [{"filter": "datum.s == 'a'"}],
      "mark": {"type": "point", "shape": "M-1,-1L1,1M-1,1L1,-1", "filled": false, "color": "#000000", "strokeWidth": 1.9, "size": 90, "opacity": 1},
      "encoding": {
        "x": {"field": "x", "type": "quantitative", "axis": null},
        "y": {"field": "y", "type": "quantitative", "axis": null}
      }
    }
  ]
}
]
}
